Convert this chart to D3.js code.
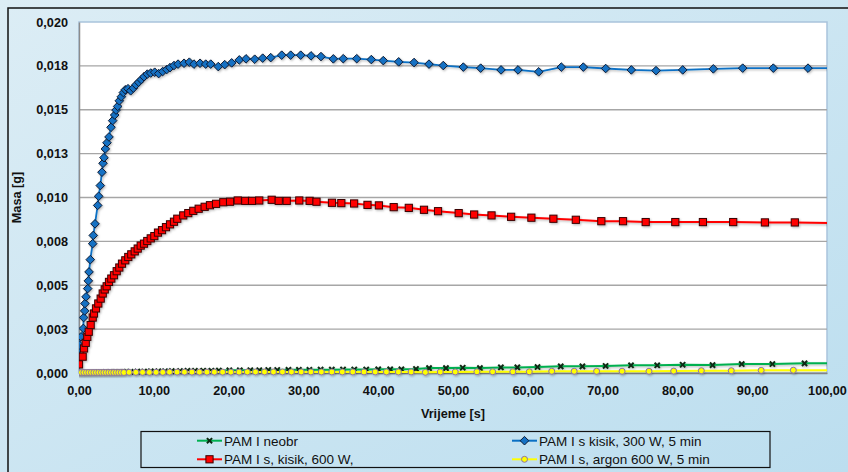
<!DOCTYPE html>
<html><head><meta charset="utf-8">
<script src="https://cdn.jsdelivr.net/npm/d3@7"></script>
<style>html,body{margin:0;padding:0;background:#d6ebf4;}svg{display:block;}</style>
</head><body>
<div id="chart"></div>
<script>
// ---------- DATA ----------
const xTicks = [0,10,20,30,40,50,60,70,80,90,100];
const xTickLabels = ["0,00","10,00","20,00","30,00","40,00","50,00","60,00","70,00","80,00","90,00","100,00"];
const yTicks = [0,0.0025,0.005,0.0075,0.01,0.0125,0.015,0.0175,0.02];
const yTickLabels = ["0,000","0,003","0,005","0,008","0,010","0,013","0,015","0,018","0,020"];

const seriesNames = ["PAM I neobr","PAM I s kisik, 300 W, 5 min","PAM I s, kisik, 600 W,","PAM I s, argon 600 W, 5 min"];

const greenT = [0,0.35,0.7,1.05,1.4,1.75,2.1,2.45,2.8,3.15,3.5,3.85,4.2,4.55,4.9,5.25,5.6,5.95,6.3,
  6.9,7.8,8.7,9.6,
  10.6,11.5,12.4,13.5,14.5,15.5,16.6,17.7,18.7,
  20.1,21.5,22.9,24.1,25.3,26.5,28.0,29.4,
  30.8,32.3,33.8,35.3,36.8,38.4,40.0,41.6,
  43.1,45.05,46.8,49.06,51.3,53.6,56.4,58.6,61.3,64.4,67.3,70.4,73.8,77.3,80.7,84.7,88.6,92.7,97.0,
  102.5];
const greenM = [0.00002,0.00002,0.00003,0.00002,0.00003,0.00003,0.00004,0.00003,0.00004,0.00004,0.00005,0.00004,0.00005,0.00005,0.00006,0.00005,0.00006,0.00006,0.00007,
  0.00007,0.00008,0.00008,0.00009,
  0.0001,0.0001,0.00011,0.00011,0.00012,0.00012,0.00013,0.00013,0.00014,
  0.00015,0.00015,0.00016,0.00016,0.00017,0.00017,0.00018,0.00018,
  0.00018,0.00019,0.00019,0.0002,0.0002,0.0002,0.00021,0.00021,
  0.00021,0.00023,0.00028,0.00028,0.0003,0.00028,0.00032,0.00032,0.00034,0.00038,0.00038,0.0004,0.00044,0.00044,0.00047,0.00045,0.00051,0.00051,0.00055,
  0.00056];

const blueT = [0,0.04,0.27,0.58,0.62,0.76,0.8,0.94,1.16,1.25,1.34,1.51,1.83,1.91,2.14,2.5,2.63,2.85,3.07,3.21,
  3.34,3.52,3.74,4.01,4.28,4.5,4.77,4.95,5.17,5.39,5.66,5.93,6.19,6.55,6.91,7.26,7.62,7.98,8.33,8.69,
  9.13,9.59,10.12,10.65,11.19,11.72,12.17,12.7,13.24,14.04,14.75,15.37,16.18,16.94,17.61,18.62,19.48,20.41,21.43,22.33,
  23.49,24.56,25.63,27.1,28.3,29.64,31.02,32.35,34.0,35.33,37.13,39.08,40.68,42.74,44.79,46.79,48.7,51.38,53.7,56.42,
  58.69,61.46,64.48,67.42,70.41,73.84,77.14,80.71,84.8,88.73,92.82,97.46,102.5];
const blueM = [0.00098,0.00159,0.00206,0.00254,0.00316,0.00354,0.00396,0.00434,0.00481,0.00525,0.00576,0.00646,0.00737,0.00784,0.0085,0.00955,0.01007,0.01068,0.01144,0.01195,
  0.01227,0.01277,0.01312,0.01345,0.014,0.01438,0.0147,0.01498,0.01519,0.01551,0.01574,0.01598,0.01614,0.0162,0.01608,0.01623,0.01642,0.01657,0.01672,0.01688,
  0.01703,0.01709,0.01714,0.01706,0.01718,0.01729,0.0174,0.01752,0.0176,0.01765,0.01771,0.0176,0.01765,0.0176,0.0176,0.01746,0.01757,0.01767,0.01784,0.0179,
  0.01788,0.01794,0.01797,0.01811,0.01811,0.01811,0.01807,0.01803,0.0179,0.01791,0.01791,0.01786,0.0178,0.01773,0.01769,0.0176,0.01752,0.01743,0.01737,0.01727,
  0.01727,0.01716,0.01743,0.01743,0.01735,0.01727,0.01723,0.01727,0.01733,0.01737,0.01737,0.01737,0.01737];

const redT = [0,0.49,0.67,0.9,1.11,1.3,1.56,1.83,2.0,2.27,2.58,2.9,3.17,3.44,3.7,4.01,4.32,4.68,5.04,5.39,
  5.75,6.19,6.59,6.99,7.45,7.85,8.25,8.69,9.13,9.59,10.07,10.56,11.1,11.63,12.17,12.7,13.14,13.94,14.61,15.28,
  16.0,16.8,17.51,18.32,19.29,20.19,21.22,22.23,23.13,24.1,25.76,26.7,27.77,29.45,30.83,31.75,33.82,35.07,36.78,38.57,
  40.09,42.07,44.09,46.12,48.0,50.76,52.83,55.15,57.77,60.48,63.42,66.42,69.83,72.73,75.76,79.72,83.41,87.46,91.7,95.7,102.5];
const redM = [0.00049,0.00093,0.0014,0.00172,0.00206,0.00235,0.00273,0.00316,0.00339,0.00368,0.00396,0.00424,0.00453,0.00476,0.00494,0.00519,0.00538,0.00557,0.0058,0.00601,
  0.00623,0.00642,0.00661,0.00676,0.00693,0.00709,0.00726,0.00737,0.00752,0.00767,0.0078,0.008,0.00814,0.00831,0.00847,0.00862,0.00879,0.00898,0.00911,0.00924,
  0.00936,0.00947,0.00956,0.00964,0.00973,0.00976,0.00983,0.00981,0.00981,0.00983,0.00987,0.00981,0.00981,0.00983,0.00981,0.00976,0.0097,0.00968,0.00966,0.00958,
  0.00955,0.00945,0.00941,0.0093,0.00922,0.00911,0.00903,0.00898,0.0089,0.00885,0.00879,0.00873,0.00865,0.00865,0.0086,0.0086,0.0086,0.0086,0.00858,0.00858,0.00854];

const yellowT = [0,0.33,0.66,1.0,1.33,1.66,2.0,2.33,2.66,3.0,3.33,3.66,4.0,4.33,4.66,5.0,5.33,5.66,6.0,
  6.7,7.6,8.5,9.4,10.3,11.2,12.1,13.1,14.1,15.1,16.1,17.1,18.1,19.2,20.3,21.4,22.5,23.6,24.8,26.0,27.2,28.4,29.7,31.0,32.4,33.8,35.2,36.6,38.1,39.6,41.1,42.7,
  44.4,46.3,48.3,50.3,53.2,55.3,58.0,60.2,63.2,66.2,69.2,72.6,76.2,79.5,83.2,87.2,91.2,95.5,
  102.5];
const yellowM = [0.00003,0.00003,0.00003,0.00003,0.00003,0.00003,0.00003,0.00003,0.00003,0.00003,0.00003,0.00003,0.00003,0.00003,0.00003,0.00003,0.00003,0.00003,0.00003,
  0.00004,0.00004,0.00004,0.00004,0.00004,0.00004,0.00005,0.00005,0.00005,0.00005,0.00005,0.00005,0.00005,0.00005,0.00005,0.00005,0.00006,0.00006,0.00006,0.00006,0.00006,0.00006,0.00006,0.00006,0.00006,0.00006,0.00006,0.00006,0.00006,0.00006,0.00006,0.00006,
  0.00006,0.00004,0.00006,0.00006,0.00007,0.00007,0.00007,0.00007,0.0001,0.0001,0.0001,0.0001,0.0001,0.00011,0.00013,0.00013,0.00015,0.00016,
  0.00016];

// ---------- LAYOUT ----------
const W = 848, H = 472;
const plot = {left:79, top:22, right:827, bottom:373};
const FONT = "'Liberation Sans', Arial, sans-serif";

const svg = d3.select("#chart").append("svg").attr("width", W).attr("height", H);
const defs = svg.append("defs");
const grad = defs.append("linearGradient").attr("id","bg").attr("x1","0").attr("y1","0").attr("x2","1").attr("y2","1");
grad.append("stop").attr("offset","0%").attr("stop-color","#dcedf5");
grad.append("stop").attr("offset","100%").attr("stop-color","#bcdeef");
defs.append("clipPath").attr("id","plotclip").append("rect")
  .attr("x",plot.left).attr("y",plot.top-6).attr("width",plot.right-plot.left).attr("height",plot.bottom-plot.top+12);
const sh = defs.append("filter").attr("id","shadow").attr("x","-20%").attr("y","-20%").attr("width","140%").attr("height","140%");
sh.append("feDropShadow").attr("dx",1).attr("dy",1.2).attr("stdDeviation",0.8).attr("flood-color","#000").attr("flood-opacity",0.28);

svg.append("rect").attr("width",W).attr("height",H).attr("fill","url(#bg)");
svg.append("rect").attr("x",8).attr("y",8).attr("width",W+20).attr("height",H+20)
  .attr("fill","none").attr("stroke","#111").attr("stroke-width",1.5);

const x = d3.scaleLinear().domain([0,100]).range([plot.left, plot.right]);
const y = d3.scaleLinear().domain([0,0.02]).range([plot.bottom, plot.top]);

// plot area
svg.append("rect").attr("x",plot.left).attr("y",plot.top)
  .attr("width",plot.right-plot.left).attr("height",plot.bottom-plot.top)
  .attr("fill","#fff").attr("stroke","#a9c3dc").attr("stroke-width",1.5);

// gridlines
svg.append("g").selectAll("line").data(yTicks.filter(v=>v>0 && v<0.02)).join("line")
  .attr("x1",plot.left).attr("x2",plot.right)
  .attr("y1",d=>y(d)).attr("y2",d=>y(d))
  .attr("stroke","#a6a6a6").attr("stroke-width",1.4);

// axes
const yAxis = d3.axisLeft(y).tickValues(yTicks).tickSize(0).tickPadding(11)
  .tickFormat((d,i)=>yTickLabels[i]);
const gy = svg.append("g").attr("transform",`translate(${plot.left},0)`).call(yAxis);
gy.select(".domain").attr("stroke","#8c8c8c").attr("stroke-width",1.5);
gy.selectAll("text").attr("font-family",FONT).attr("font-size",12.7).attr("font-weight","bold").attr("fill","#111");

const xAxis = d3.axisBottom(x).tickValues(xTicks).tickSize(0).tickPadding(13)
  .tickFormat((d,i)=>xTickLabels[i]);
const gx = svg.append("g").attr("transform",`translate(0,${plot.bottom})`).call(xAxis);
gx.select(".domain").attr("stroke","#8c8c8c").attr("stroke-width",1.5);
gx.selectAll("text").attr("font-family",FONT).attr("font-size",12.7).attr("font-weight","bold").attr("fill","#111");

// axis titles
svg.append("text").attr("transform",`translate(21,${(plot.top+plot.bottom)/2}) rotate(-90)`)
  .attr("text-anchor","middle").attr("font-family",FONT).attr("font-size",12.7).attr("font-weight","bold")
  .attr("fill","#111").text("Masa [g]");
svg.append("text").attr("x",(plot.left+plot.right)/2).attr("y",418)
  .attr("text-anchor","middle").attr("font-family",FONT).attr("font-size",12.7).attr("font-weight","bold")
  .attr("fill","#111").text("Vrijeme [s]");

// ---------- SERIES ----------
const zip = (ts, ms) => ts.map((t,i)=>({t, m: ms[i]}));
const series = [
  {name: seriesNames[0], data: zip(greenT, greenM), color:"#00b050", marker:"x"},
  {name: seriesNames[1], data: zip(blueT, blueM), color:"#0a70c4", marker:"diamond"},
  {name: seriesNames[2], data: zip(redT, redM), color:"#ff0000", marker:"square"},
  {name: seriesNames[3], data: zip(yellowT, yellowM), color:"#ffff00", marker:"circle"}
];

function drawMarker(sel, type){
  if(type==="diamond"){
    sel.append("path").attr("d","M0,-4.3L4.3,0L0,4.3L-4.3,0Z")
      .attr("fill","#1571c3").attr("stroke","#0c1a33").attr("stroke-width",1);
  } else if(type==="square"){
    sel.append("rect").attr("x",-3.6).attr("y",-3.6).attr("width",7.2).attr("height",7.2)
      .attr("fill","#ff0000").attr("stroke","#3a0000").attr("stroke-width",1);
  } else if(type==="x"){
    sel.append("path").attr("d","M-2.6,-2.6L2.6,2.6M2.6,-2.6L-2.6,2.6")
      .attr("stroke","#0b2a12").attr("stroke-width",2).attr("fill","none");
  } else if(type==="circle"){
    sel.append("circle").attr("r",3)
      .attr("fill","#ffff00").attr("stroke","#8a72ad").attr("stroke-width",1);
  }
}

const line = d3.line().x(d=>x(d.t)).y(d=>y(d.m));
const gs = svg.append("g").attr("clip-path","url(#plotclip)");
series.forEach(s=>{
  const g = gs.append("g").attr("filter","url(#shadow)");
  g.append("path").datum(s.data).attr("d",line)
    .attr("fill","none").attr("stroke",s.color).attr("stroke-width",s.marker==="diamond"?1.8:2);
  g.selectAll("g.mk").data(s.data.filter(d=>d.t<=100.5)).join("g").attr("class","mk")
    .attr("transform",d=>`translate(${x(d.t)},${y(d.m)})`)
    .each(function(){ drawMarker(d3.select(this), s.marker); });
});

// ---------- LEGEND ----------
const leg = svg.append("g");
leg.append("rect").attr("x",141).attr("y",431.5).attr("width",629).attr("height",36)
  .attr("fill","none").attr("stroke","#111").attr("stroke-width",1.2);
const legPos = [[197,440.7],[512,440.7],[197,459.3],[512,459.3]];
series.forEach((s,i)=>{
  const [lx,ly] = legPos[i];
  const g = leg.append("g");
  g.append("line").attr("x1",lx).attr("x2",lx+25).attr("y1",ly).attr("y2",ly)
    .attr("stroke",s.color).attr("stroke-width",2);
  const m = g.append("g").attr("transform",`translate(${lx+12.5},${ly})`);
  drawMarker(m, s.marker);
  g.append("text").attr("x",lx+27).attr("y",ly+4.8)
    .attr("font-family",FONT).attr("font-size",13.5).attr("fill","#111").text(s.name);
});
</script>
</body></html>
